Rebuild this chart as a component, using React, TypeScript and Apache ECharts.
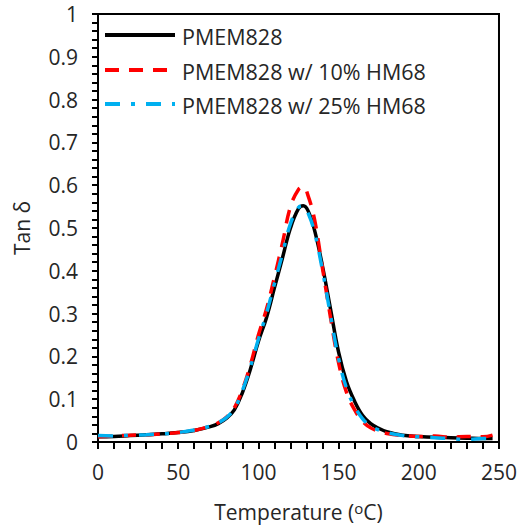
import React, { useEffect, useRef } from "react";
import * as echarts from "echarts";

const temps = [0, 10, 20, 30, 40, 50, 60, 70, 75, 80, 85, 90, 95, 100, 105, 110, 115, 120, 125, 128, 131, 135, 140, 145, 150, 155, 160, 165, 170, 175, 180, 190, 200, 210, 220, 230, 240, 246];

const pmem = [0.012, 0.013, 0.015, 0.017, 0.019, 0.022, 0.027, 0.036, 0.043, 0.055, 0.075, 0.115, 0.17, 0.235, 0.29, 0.36, 0.43, 0.5, 0.545, 0.552, 0.54, 0.495, 0.41, 0.31, 0.21, 0.14, 0.095, 0.062, 0.043, 0.032, 0.024, 0.016, 0.013, 0.011, 0.01, 0.009, 0.008, 0.008];

const pmem10 = [0.012, 0.014, 0.016, 0.017, 0.019, 0.022, 0.027, 0.037, 0.045, 0.058, 0.08, 0.122, 0.18, 0.25, 0.31, 0.385, 0.465, 0.55, 0.59, 0.596, 0.575, 0.52, 0.405, 0.29, 0.185, 0.115, 0.075, 0.048, 0.033, 0.025, 0.02, 0.015, 0.013, 0.014, 0.011, 0.013, 0.012, 0.016];

const pmem25 = [0.015, 0.014, 0.016, 0.017, 0.019, 0.022, 0.028, 0.037, 0.045, 0.057, 0.078, 0.12, 0.175, 0.24, 0.3, 0.37, 0.44, 0.51, 0.548, 0.552, 0.535, 0.49, 0.4, 0.295, 0.195, 0.125, 0.083, 0.054, 0.037, 0.028, 0.022, 0.015, 0.012, 0.01, 0.008, 0.006, 0.008, 0.008];

const seriesNames = ["PMEM828", "PMEM828 w/ 10% HM68", "PMEM828 w/ 25% HM68"];
const seriesColors = ["#000000", "#ff0000", "#00b0f0"];
const seriesDash: (number[] | null)[] = [null, [14, 10], [15, 11, 4, 11]];

const FONT = "Open Sans";
const TXT = "#262626";

export default function App() {
  const ref = useRef<HTMLDivElement>(null);
  useEffect(() => {
    const chart = echarts.init(ref.current!, undefined, { renderer: "svg" });
    const mk = (vals: number[]) => temps.map((t, i) => [t, vals[i]]);
    const legendRows = [35, 70, 104];
    const graphic: any[] = [];
    seriesNames.forEach((n, i) => {
      graphic.push({
        type: "line",
        shape: { x1: 105, y1: legendRows[i], x2: 175, y2: legendRows[i] },
        style: {
          stroke: seriesColors[i],
          lineWidth: 4,
          lineDash: seriesDash[i] || undefined,
        },
      });
      graphic.push({
        type: "text",
        x: 182,
        y: legendRows[i] + 1,
        style: { text: n, fontFamily: FONT, fontSize: 21.5, fill: TXT, verticalAlign: "middle", align: "left" },
      });
    });
    const series = [pmem, pmem10, pmem25].map((vals, i) => ({
      name: seriesNames[i],
      type: "line",
      data: mk(vals),
      smooth: 0.4,
      symbol: "none",
      lineStyle: { color: seriesColors[i], width: 3.5, type: seriesDash[i] || "solid" },
      itemStyle: { color: seriesColors[i] },
      z: 3 + i,
    }));
    chart.setOption({
      animation: false,
      backgroundColor: "#fff",
      grid: { left: 98, right: 21, top: 14, bottom: 89, show: true, borderColor: "#000", borderWidth: 2 },
      graphic,
      xAxis: {
        type: "value",
        min: 0,
        max: 250,
        interval: 10,
        name: "{a|Temperature (}{s|o}{a|C)}",
        nameLocation: "middle",
        nameGap: 58,
        nameTextStyle: {
          rich: {
            a: { fontFamily: FONT, fontSize: 21, color: TXT },
            s: { fontFamily: FONT, fontSize: 15, color: TXT, padding: [0, 0, 8, 0] },
          },
        },
        axisLine: { lineStyle: { color: "#000", width: 2 } },
        axisTick: { show: true, length: 7, lineStyle: { color: "#000", width: 2 } },
        splitLine: { show: false },
        axisLabel: {
          fontFamily: FONT,
          fontSize: 21,
          color: TXT,
          margin: 19,
          showMaxLabel: true,
          formatter: (v: number) => (Math.round(v) % 50 === 0 ? String(Math.round(v)) : ""),
        },
      },
      yAxis: {
        type: "value",
        min: 0,
        max: 1,
        interval: 0.02,
        name: "Tan δ",
        nameLocation: "middle",
        nameGap: 66,
        nameTextStyle: { fontFamily: FONT, fontSize: 21, color: TXT },
        axisLine: { lineStyle: { color: "#000", width: 2 } },
        axisTick: { show: true, length: 6, lineStyle: { color: "#000", width: 2 } },
        splitLine: { show: false },
        axisLabel: {
          fontFamily: FONT,
          fontSize: 21,
          color: TXT,
          margin: 20,
          formatter: (v: number) => {
            const r = Math.round(v * 100);
            return r % 10 === 0 ? String(r / 100) : "";
          },
        },
      },
      series,
    });
    return () => chart.dispose();
  }, []);
  return <div ref={ref} style={{ position: "fixed", left: 0, top: 0, width: 520, height: 531 }} />;
}
